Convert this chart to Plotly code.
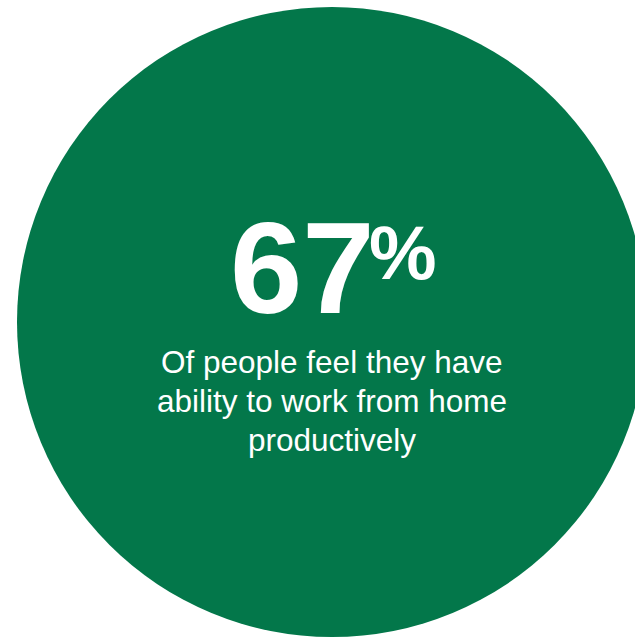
import plotly.graph_objects as go

# Headline statistic and its caption
share_value = 67
share_suffix = "%"
caption_lines = [
    "Of people feel they have",
    "ability to work from home",
    "productively",
]

W, H = 635, 639
GREEN = "#03774A"
FONT = "Liberation Sans, Arial, sans-serif"

fig = go.Figure()

# Big green disc (extends past the right and bottom edges)
fig.add_shape(
    type="circle", xref="x", yref="y",
    x0=17, x1=647, y0=7, y1=637,
    fillcolor=GREEN, line=dict(width=0), layer="below",
)

annotations = [
    dict(x=302, y=268, text=f"<b>{share_value}</b>",
         font=dict(family=FONT, size=130, color="white"),
         xanchor="center", yanchor="middle"),
    dict(x=403, y=252, text=f"<b>{share_suffix}</b>",
         font=dict(family=FONT, size=76, color="white"),
         xanchor="center", yanchor="middle"),
]
for i, line in enumerate(caption_lines):
    annotations.append(dict(
        x=332, y=362 + 39 * i, text=line,
        font=dict(family=FONT, size=31.5, color="white"),
        xanchor="center", yanchor="middle",
    ))

for a in annotations:
    a.update(xref="x", yref="y", showarrow=False)

fig.update_layout(
    width=W, height=H,
    margin=dict(l=0, r=0, t=0, b=0),
    paper_bgcolor="white", plot_bgcolor="white",
    xaxis=dict(range=[0, W], visible=False, fixedrange=True),
    yaxis=dict(range=[H, 0], visible=False, fixedrange=True),
    annotations=annotations,
    showlegend=False,
)

fig.write_html("out.html", config={"displayModeBar": False})
